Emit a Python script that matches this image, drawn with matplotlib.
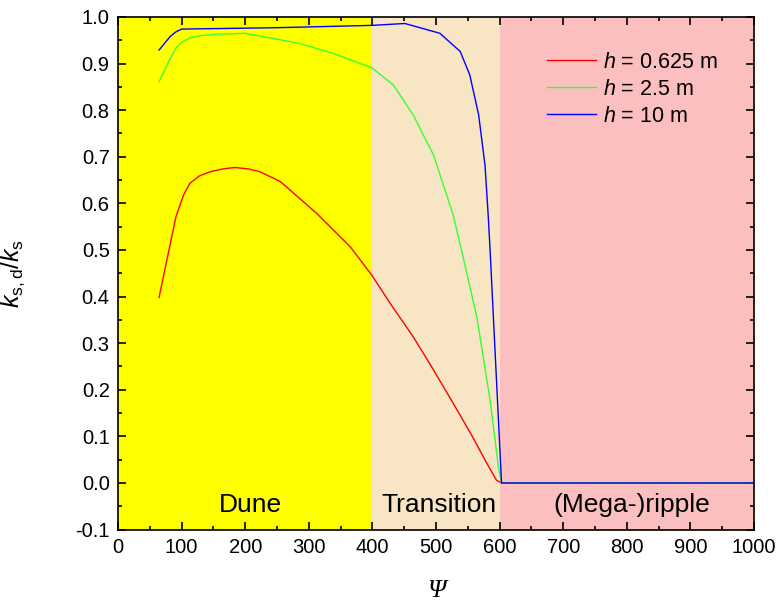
import numpy as np
import matplotlib
matplotlib.use("Agg")
import matplotlib.pyplot as plt
from matplotlib.ticker import MultipleLocator

plt.rcParams["font.family"] = ["Liberation Sans", "DejaVu Sans"]
plt.rcParams["mathtext.fontset"] = "custom"
plt.rcParams["mathtext.rm"] = "Liberation Sans"
plt.rcParams["mathtext.it"] = "Liberation Sans:italic"

# regime boundaries on the Psi axis
regimes = ["Dune", "Transition", "(Mega-)ripple"]
regime_edges = [0, 400, 600, 1000]
regime_label_x = [208, 505, 807]

# h = 0.625 m
psi_red = [64.5, 91, 103, 113, 128, 145, 165, 184, 205, 223, 255, 312, 365, 399, 430, 464, 495, 527, 555, 580, 595, 603, 1000]
k_red = [0.398, 0.571, 0.618, 0.643, 0.659, 0.668, 0.674, 0.677, 0.674, 0.668, 0.647, 0.579, 0.507, 0.446, 0.381, 0.314, 0.245, 0.171, 0.105, 0.042, 0.006, 0.0, 0.0]

# h = 2.5 m
psi_green = [64.5, 82, 92, 100, 113, 130, 155, 200, 286, 338, 399, 433, 464, 496, 527, 540, 564, 585, 598, 603, 1000]
k_green = [0.861, 0.911, 0.935, 0.946, 0.955, 0.960, 0.963, 0.965, 0.943, 0.922, 0.891, 0.854, 0.790, 0.704, 0.575, 0.5, 0.357, 0.178, 0.035, 0.0, 0.0]

# h = 10 m
psi_blue = [64.5, 82, 91, 100, 250, 400, 451, 506, 538, 553, 567, 577, 582, 585, 603, 1000]
k_blue = [0.929, 0.958, 0.968, 0.974, 0.977, 0.982, 0.986, 0.965, 0.926, 0.876, 0.790, 0.682, 0.575, 0.5, 0.0, 0.0]

fig = plt.figure(figsize=(7.78, 6.04), dpi=100)
ax = fig.add_axes([0.1517, 0.1232, 0.8175, 0.8487])

bg_colors = ["#FFFF00", "#F8E5C3", "#FBBFBF"]
for i in range(3):
    ax.axvspan(regime_edges[i], regime_edges[i + 1], color=bg_colors[i], lw=0, zorder=0)
    ax.text(regime_label_x[i], -0.062, regimes[i], ha="center", va="baseline", fontsize=19)

ax.plot(psi_red, k_red, color="#FF0000", lw=1, label=r"$h$ = 0.625 m")
ax.plot(psi_green, k_green, color="#33FF33", lw=1, label=r"$h$ = 2.5 m")
ax.plot(psi_blue, k_blue, color="#0000FF", lw=1, label=r"$h$ = 10 m")

ax.set_xlim(0, 1000)
ax.set_ylim(-0.1, 1.0)
ax.xaxis.set_major_locator(MultipleLocator(100))
ax.xaxis.set_minor_locator(MultipleLocator(50))
ax.yaxis.set_major_locator(MultipleLocator(0.1))
ax.yaxis.set_minor_locator(MultipleLocator(0.05))
ax.yaxis.set_major_formatter(matplotlib.ticker.FormatStrFormatter("%.1f"))
ax.tick_params(which="both", direction="in", top=True, right=True, labelsize=14.5, width=1.2, pad=6)
ax.tick_params(which="major", length=6)
ax.tick_params(which="minor", length=3)
for s in ax.spines.values():
    s.set_linewidth(1.2)

ax.set_xlabel("Ψ", fontsize=19, fontfamily="Liberation Serif", style="italic")
ax.xaxis.set_label_coords(0.5, -0.098)
ax.set_ylabel(r"$k_{\mathrm{s,d}}/k_{\mathrm{s}}$", fontsize=18)
ax.yaxis.set_label_coords(-0.143, 0.5)

ax.legend(loc="upper left", bbox_to_anchor=(0.6745, 0.932), frameon=False, fontsize=15.5,
          handlelength=2.28, handletextpad=0.33, labelspacing=0.28,
          borderpad=0, borderaxespad=0)

fig.savefig("out.png", dpi=100)
